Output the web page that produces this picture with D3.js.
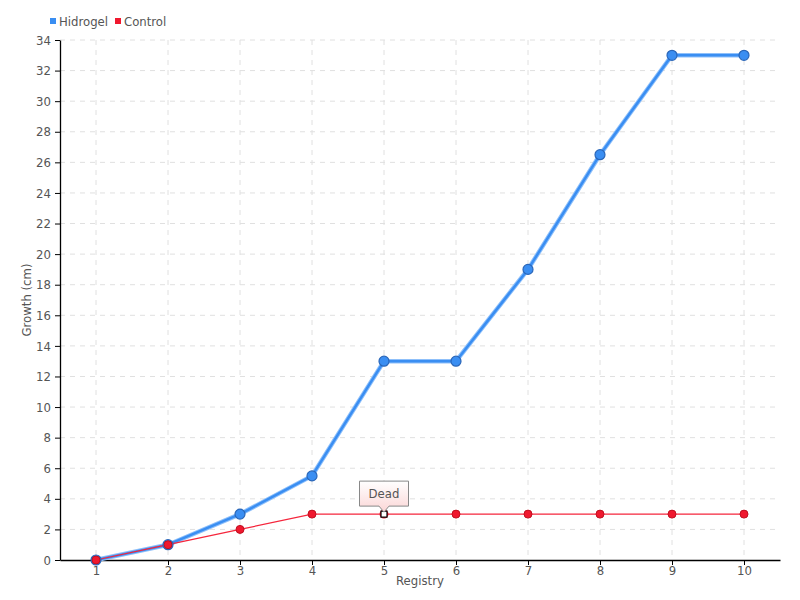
<!DOCTYPE html>
<html><head><meta charset="utf-8">
<script src="https://cdn.jsdelivr.net/npm/d3@7"></script>
<style>
body{margin:0;background:#fff;}
text{font-family:"DejaVu Sans Condensed","DejaVu Sans",sans-serif;font-stretch:condensed;}
</style></head>
<body><svg id="c" width="800" height="600"></svg>
<script>
const categories = ["1","2","3","4","5","6","7","8","9","10"];
const hidrogel = [0,1,3,5.5,13,13,19,26.5,33,33];
const control = [0,1,2,3,3,3,3,3,3,3];
const yTicks = d3.range(0,35,2);
const seriesNames = ["Hidrogel","Control"];
const annotation = {index:4, label:"Dead"};

(function(){
const svg = d3.select("#c");
const m = {l:60,r:20,t:40,b:40};
const W = 800, H = 600;
const x = d3.scalePoint().domain(categories).range([m.l, W-m.r]).padding(0.5);
const y = d3.scaleLinear().domain([0,34]).range([H-m.b, m.t]);
const FS = 13;

const defs = svg.append("defs");
const g1 = defs.append("linearGradient").attr("id","tip").attr("x1",0).attr("y1",0).attr("x2",0).attr("y2",1);
g1.append("stop").attr("offset","0%").attr("stop-color","#fff");
g1.append("stop").attr("offset","100%").attr("stop-color","#fbd6d6");

// grid
const grid = svg.append("g");
grid.selectAll(".h").data(yTicks.filter(d=>d>0)).enter().append("line")
  .attr("x1",m.l).attr("x2",W-m.r).attr("y1",d=>y(d)).attr("y2",d=>y(d))
  .attr("stroke","#e0e0e0").attr("stroke-dasharray","5,5");
grid.selectAll(".v").data(categories).enter().append("line")
  .attr("x1",d=>x(d)).attr("x2",d=>x(d)).attr("y1",m.t).attr("y2",H-m.b)
  .attr("stroke","#e0e0e0").attr("stroke-dasharray","5,5");

// axes
const xa = svg.append("g").attr("transform",`translate(0,${H-m.b})`)
  .call(d3.axisBottom(x).tickSize(5).tickSizeOuter(0));
const ya = svg.append("g").attr("transform",`translate(${m.l},0)`)
  .call(d3.axisLeft(y).tickValues(yTicks).tickSize(5).tickSizeOuter(0));
[xa,ya].forEach(a=>{
  a.select(".domain").attr("stroke","#000").attr("stroke-width",1.3);
  a.selectAll(".tick line").attr("stroke","#000");
  a.selectAll(".tick text").attr("fill","#555").attr("font-size",FS);
});
xa.selectAll(".tick text").attr("dy","0.55em");
ya.selectAll(".tick text").attr("dx","-1");

// axis titles
svg.append("text").attr("x",(m.l+W-m.r)/2).attr("y",585).attr("text-anchor","middle")
  .attr("fill","#555").attr("font-size",FS).text("Registry");
svg.append("text").attr("transform",`translate(31,${(m.t+H-m.b)/2}) rotate(-90)`).attr("text-anchor","middle")
  .attr("fill","#555").attr("font-size",FS).text("Growth (cm)");

// lines
const line = d3.line().x((d,i)=>x(categories[i])).y(d=>y(d));
svg.append("path").datum(hidrogel).attr("d",line).attr("fill","none")
  .attr("stroke","#8fc0fa").attr("stroke-width",4.5).attr("stroke-linejoin","round");
svg.append("path").datum(hidrogel).attr("d",line).attr("fill","none")
  .attr("stroke","#3a8ef2").attr("stroke-width",2.5).attr("stroke-linejoin","round");
svg.append("path").datum(control).attr("d",line).attr("fill","none")
  .attr("stroke","#f5263c").attr("stroke-width",1.2);

hidrogel.forEach((v,i)=>{
  svg.append("circle").attr("cx",x(categories[i])).attr("cy",y(v)).attr("r",5)
    .attr("fill","#3a8ef2").attr("stroke","#2a66b8").attr("stroke-width",1.2);
});
control.forEach((v,i)=>{
  if(i===annotation.index){
    svg.append("circle").attr("cx",x(categories[i])).attr("cy",y(v)).attr("r",4.5).attr("fill","#f0182e");
    svg.append("rect").attr("x",x(categories[i])-3).attr("y",y(v)-3).attr("width",6).attr("height",6)
      .attr("fill","#fff").attr("stroke","#000").attr("stroke-width",1.2);
  } else {
    svg.append("circle").attr("cx",x(categories[i])).attr("cy",y(v)).attr("r",4)
      .attr("fill","#f0182e").attr("stroke","#c01020").attr("stroke-width",1);
  }
});

// annotation
const px = x(categories[annotation.index]), py = y(control[annotation.index]);
const bw = 49, bh = 25, boxTop = py-33;
const path = `M${px-bw/2},${boxTop} h${bw} v${bh} h${-bw/2+5} l-5,6 l-5,-6 h${-bw/2+5} z`;
svg.append("path").attr("d",path).attr("fill","url(#tip)").attr("stroke","#888").attr("stroke-width",1);
svg.append("text").attr("x",px).attr("y",boxTop+17).attr("text-anchor","middle")
  .attr("fill","#555").attr("font-size",FS).text(annotation.label);

// legend
const colors = ["#3a8ef2","#f0182e"];
const lx = [50,115];
seriesNames.forEach((n,i)=>{
  svg.append("rect").attr("x",lx[i]).attr("y",18).attr("width",6).attr("height",6).attr("fill",colors[i]);
  svg.append("text").attr("x",lx[i]+9).attr("y",26).attr("fill","#555").attr("font-size",FS).text(n);
});
})();
</script>
</body></html>
